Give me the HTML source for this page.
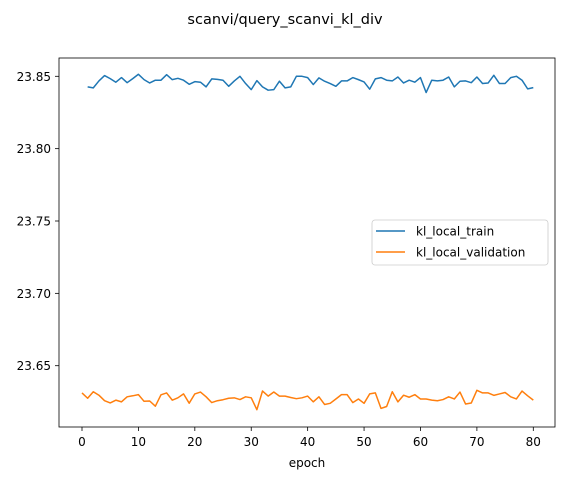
<!DOCTYPE html>
<html><head><meta charset="utf-8"><style>
body{margin:0;background:#fff}
svg text{font-family:"DejaVu Sans","Liberation Sans",sans-serif;fill:#000}
</style></head><body>
<svg id="chart" width="565" height="480">
<text x="285" y="24" font-size="14.5" text-anchor="middle">scanvi/query_scanvi_kl_div</text>
<g id="axes"></g>
</svg>
<script>
const trainEpochs = Array.from({length:80},(_,i)=>i+1);
const valEpochs = Array.from({length:81},(_,i)=>i);
const trainValues = [23.8427,23.8420,23.8468,23.8505,23.8484,23.8459,23.8491,23.8456,23.8484,23.8514,23.8477,23.8454,23.8473,23.8473,23.8511,23.8477,23.8486,23.8473,23.8445,23.8463,23.8459,23.8427,23.8482,23.8479,23.8473,23.8431,23.8468,23.85,23.845,23.8408,23.847,23.8427,23.8404,23.8408,23.8466,23.842,23.8427,23.85,23.85,23.8491,23.8443,23.8489,23.8466,23.845,23.8431,23.8468,23.8468,23.8491,23.8477,23.8461,23.8411,23.8482,23.8491,23.8473,23.8468,23.8495,23.8454,23.8473,23.8459,23.8491,23.8388,23.8473,23.8468,23.8473,23.8495,23.8427,23.8466,23.8468,23.8456,23.8495,23.845,23.8454,23.8507,23.845,23.845,23.8491,23.85,23.8473,23.8413,23.8422];
const valValues = [23.6312,23.6275,23.6320,23.6296,23.6258,23.6243,23.6262,23.6250,23.6285,23.6292,23.6300,23.6254,23.6256,23.6220,23.6299,23.6312,23.6262,23.6278,23.6305,23.6241,23.6305,23.6318,23.6285,23.6245,23.6258,23.6265,23.6275,23.6278,23.6266,23.6285,23.6278,23.6196,23.6325,23.6290,23.6318,23.6290,23.6290,23.6280,23.6272,23.6278,23.6290,23.6250,23.6285,23.6232,23.6240,23.6270,23.6300,23.6300,23.6245,23.6270,23.6240,23.6305,23.6312,23.6205,23.6218,23.6320,23.6250,23.6296,23.6282,23.6300,23.6270,23.6270,23.6262,23.6258,23.6266,23.6285,23.6270,23.6318,23.6235,23.6242,23.6330,23.6312,23.6312,23.6295,23.6305,23.6315,23.6285,23.6270,23.6325,23.6292,23.6262,23.6295];
const xTicks = [0,10,20,30,40,50,60,70,80];
const yTicks = [23.65,23.70,23.75,23.80,23.85];
const yTickLabels = ["23.65","23.70","23.75","23.80","23.85"];
const seriesNames = ["kl_local_train","kl_local_validation"];

const L=59,R=555,T=58,B=427;
const xs = v => 82 + (v-0)*(533.3-82)/80;
const ys = v => 365.7 - (v-23.65)*(365.7-76.3)/0.2;
const NS="http://www.w3.org/2000/svg";
const g=document.getElementById('axes');
function mk(tag,attrs,parent){const e=document.createElementNS(NS,tag);for(const k in attrs)e.setAttribute(k,attrs[k]);(parent||g).appendChild(e);return e;}

xTicks.forEach(t=>{
  const l=mk('line',{x1:xs(t),x2:xs(t),y1:B,y2:B+4,stroke:'#000','stroke-width':0.8});
  
  
  const tx=mk('text',{x:xs(t),y:B+19,'font-size':12,'text-anchor':'middle'});
  tx.textContent=t;
  
  
});
yTicks.forEach((t,i)=>{
  const l=mk('line',{x1:L-4,x2:L,y1:ys(t),y2:ys(t),stroke:'#000','stroke-width':0.8});
  
  
  const tx=mk('text',{x:L-8,y:ys(t)+4.5,'font-size':12,'text-anchor':'end'});
  tx.textContent=yTickLabels[i];
  
  
});
const xl=mk('text',{x:(L+R)/2,y:467,'font-size':12,'text-anchor':'middle'});
xl.textContent='epoch';



function line(xv,yv,color,name){
  const p=mk('polyline',{points:xv.map((x,i)=>xs(x).toFixed(2)+','+ys(yv[i]).toFixed(2)).join(' '),fill:'none',stroke:color,'stroke-width':1.5,'stroke-linejoin':'round'});
  
  
}
line(trainEpochs,trainValues,'#1f77b4','train-line');
line(valEpochs,valValues,'#ff7f0e','validation-line');

const frame=mk('rect',{x:L,y:T,width:R-L,height:B-T,fill:'none',stroke:'#000','stroke-width':0.8});



const lg=mk('g',{});


mk('rect',{x:372,y:220,width:176,height:45,rx:3,fill:'#fff',stroke:'#ccc','stroke-width':0.8},lg);
const colors=['#1f77b4','#ff7f0e'];
seriesNames.forEach((n,i)=>{
  const y=231+i*21;
  const e=mk('g',{},lg);
  
  
  mk('line',{x1:376,x2:405,y1:y,y2:y,stroke:colors[i],'stroke-width':1.5},e);
  const t=mk('text',{x:416,y:y+4.5,'font-size':12},e);
  t.textContent=n;
});
</script>
</body></html>
